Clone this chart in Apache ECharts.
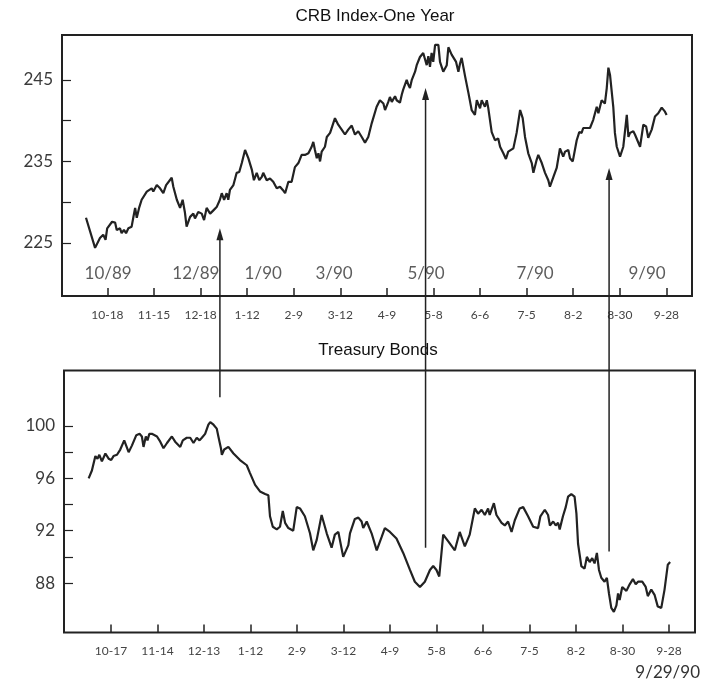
<!DOCTYPE html>
<html>
<head>
<meta charset="utf-8">
<script src="https://cdn.jsdelivr.net/npm/echarts@6/dist/echarts.min.js"></script>
<style>
html,body{margin:0;padding:0;background:#fff;}
#main{width:710px;height:685px;}
</style>
</head>
<body>
<div id="main"></div>
<script>
// ---- data (x = trading days from first tick; ticks every 20 days) ----
const tickDays = [0,20,40,60,80,100,120,140,160,180,200,220,240];
const crbTickLabels = ['10-18','11-15','12-18','1-12','2-9','3-12','4-9','5-8','6-6','7-5','8-2','8-30','9-28'];
const bondTickLabels = ['10-17','11-14','12-13','1-12','2-9','3-12','4-9','5-8','6-6','7-5','8-2','8-30','9-28'];
const crbYTicks = [225,230,235,240,245];
const crbYLabels = [225,235,245];
const bondYTicks = [88,90,92,94,96,98,100];
const bondYLabels = [88,92,96,100];
const monthLabels = ['10/89','12/89','1/90','3/90','5/90','7/90','9/90'];
const monthDays = [0.3,38,66.9,97.3,136.8,183.6,231.7];

const crbDays = [-9.2,-5.3,-3.2,-1.8,-0.8,-0.1,2.0,3.3,4.0,5.4,
6.1,7.1,8.0,9.0,10.4,11.1,11.9,12.6,13.7,14.7,
16.9,19.0,19.7,21.2,22.6,24.0,25.2,27.6,28.3,29.8,
31.2,32.3,33.3,34.0,35.5,36.9,37.6,39.0,40.5,41.5,
42.6,44.1,45.5,46.2,46.9,48.3,49.1,50.1,51.2,51.9,
52.6,54.1,55.5,56.6,57.7,59.1,60.5,62.0,62.9,64.1,
65.2,66.3,66.9,68.4,69.8,71.2,72.7,74.1,75.3,76.3,
77.7,79.1,80.5,82.0,83.4,84.8,86.3,87.7,88.4,89.1,
89.9,90.6,91.3,92.0,93.4,94.2,95.6,97.7,99.1,100.6,
102.0,103.4,104.9,106.3,107.7,109.2,110.6,112.0,113.5,115.6,
117.0,118.5,119.2,120.6,121.3,122.1,123.5,124.2,125.6,126.4,
127.0,128.5,129.2,129.9,130.7,132.1,132.8,134.2,135.6,137.1,
137.8,138.5,139.2,139.9,140.7,142.1,142.8,144.2,145.7,146.4,
147.8,148.5,149.7,150.7,151.4,152.1,153.6,155.0,156.4,157.8,
158.6,160.0,160.7,162.1,162.9,163.5,165.0,165.7,166.4,167.8,
168.6,170.0,171.1,172.1,172.9,174.3,175.7,177.2,178.3,179.3,
180.7,182.2,182.9,184.3,185.0,186.5,187.9,189.3,190.0,191.5,
192.9,194.3,195.7,196.5,197.9,198.6,199.8,201.5,202.6,203.6,
204.3,205.8,207.2,208.6,210.1,210.8,212.2,213.6,214.4,215.1,
215.8,217.2,217.9,218.7,220.1,221.5,223.0,223.7,224.4,225.8,
226.5,227.3,228.7,230.1,231.3,232.2,233.7,235.1,236.5,238.0,
239.4,240.1];
const crbValues = [228.1,224.4,225.6,226.0,225.4,226.8,227.6,227.5,226.6,226.8,
226.2,226.6,226.2,226.8,227.0,228.1,229.3,228.1,229.4,230.3,
231.3,231.7,231.3,232.1,231.7,231.1,232.1,233.0,231.9,230.3,
229.3,230.3,228.7,227.0,228.2,228.6,228.0,228.8,228.6,227.8,
229.3,228.6,229.0,228.8,229.4,230.3,231.1,230.3,231.1,230.3,
231.5,232.1,233.6,233.7,234.8,236.4,235.4,234.0,232.7,233.6,
232.7,233.1,233.6,232.7,232.9,232.5,231.7,231.9,231.5,231.1,
232.5,232.5,234.3,234.8,235.8,235.8,236.0,236.8,237.4,236.4,
235.4,236.0,235.0,236.2,236.8,238.0,238.5,240.3,239.5,238.9,
238.3,238.9,239.4,238.3,238.7,238.0,237.3,238.0,239.7,241.7,
242.5,242.1,241.3,242.3,242.9,242.3,243.0,242.5,242.2,243.2,
243.8,245.0,244.4,244.0,245.0,246.0,246.8,247.8,248.3,246.8,
247.9,246.6,248.3,247.2,249.3,249.3,247.2,246.0,246.8,249.0,
248.1,248.3,247.2,246.0,247.0,247.7,245.4,243.4,241.3,240.7,
242.5,241.5,242.5,241.7,242.5,241.6,238.6,238.5,237.6,237.8,
236.8,236.0,235.3,236.2,236.0,236.6,238.5,241.3,240.3,238.0,
236.0,234.8,233.6,235.2,235.8,234.8,233.6,232.7,231.9,233.1,
234.2,236.6,235.6,236.2,236.4,235.4,235.0,237.6,238.6,238.5,
239.1,239.1,239.1,240.1,241.7,240.9,242.5,242.1,244.0,246.5,
245.6,241.7,238.5,236.8,235.6,236.8,240.7,238.0,238.5,238.7,
238.3,238.5,236.8,239.5,239.3,237.9,238.9,240.5,240.9,241.6,
241.1,240.7];

const bondDays = [-9.6,-8.2,-6.7,-5.8,-5.0,-3.9,-2.4,-1.0,0.1,1.1,
2.6,4.0,5.7,7.6,9.0,10.9,12.3,13.3,14.0,15.0,
15.7,16.5,17.6,19.8,21.2,22.6,24.1,26.2,27.6,29.8,
30.9,32.6,34.1,35.5,36.9,38.1,39.1,40.5,41.9,42.7,
44.1,45.5,46.2,47.3,47.7,48.7,50.5,52.7,55.5,58.4,
59.8,62.0,64.1,66.3,67.7,68.4,69.6,71.3,72.7,73.9,
74.9,76.3,78.4,79.9,81.3,83.4,85.6,87.0,88.5,90.6,
92.8,94.9,96.3,97.8,99.9,102.1,102.8,104.9,106.4,107.8,
108.5,110.0,112.1,114.3,116.4,117.8,120.0,122.8,125.7,128.6,
130.7,132.9,135.0,137.2,138.6,140.0,141.2,142.9,145.0,147.9,
150.0,152.2,154.3,156.5,157.9,159.4,160.8,162.2,162.9,164.7,
165.8,168.0,169.4,170.8,172.3,173.7,175.8,177.3,179.4,181.6,
183.7,184.7,186.6,188.0,188.8,190.2,191.3,192.3,193.0,194.4,
195.6,196.6,198.0,199.4,200.2,200.9,202.3,203.7,204.7,205.9,
207.0,208.0,209.0,209.9,210.9,212.3,213.3,214.2,215.2,216.3,
217.4,218.1,218.8,219.9,221.7,223.1,224.5,225.7,226.7,228.5,
230.0,230.9,232.4,233.8,235.2,236.7,238.1,239.5,240.5];
const bondValues = [96.0,96.6,97.7,97.5,97.8,97.3,97.9,97.5,97.4,97.7,
97.8,98.2,98.9,98.0,98.5,99.3,99.4,99.2,98.4,99.2,
98.9,99.4,99.4,99.2,98.8,98.3,98.7,99.2,98.8,98.4,
98.9,99.1,99.1,98.7,99.1,98.9,99.1,99.4,100.1,100.3,
100.1,99.8,99.2,98.3,97.8,98.2,98.4,97.9,97.4,97.0,
96.4,95.5,95.0,94.8,94.7,93.1,92.3,92.1,92.3,93.5,
92.6,92.2,92.0,93.8,93.7,93.1,91.8,90.5,91.3,93.2,
91.8,90.7,91.7,91.9,90.0,90.9,91.8,92.9,93.0,92.7,
92.2,92.7,91.8,90.5,91.5,92.2,91.9,91.4,90.3,89.0,
88.1,87.7,88.1,89.0,89.3,89.0,88.5,91.7,91.2,90.5,
91.9,90.8,91.7,93.7,93.3,93.6,93.2,93.7,93.2,94.1,
93.2,92.6,92.4,92.7,91.9,92.8,93.7,93.8,93.1,92.3,
92.2,93.1,93.6,93.2,92.4,92.7,92.4,92.6,92.1,93.1,
93.8,94.6,94.8,94.6,93.3,91.0,89.3,89.1,90.0,89.6,
89.9,89.5,90.3,89.0,88.4,88.1,88.4,87.2,86.1,85.8,
86.3,87.2,86.7,87.7,87.4,87.9,88.3,87.9,88.1,88.1,
87.7,87.0,87.5,87.1,86.2,86.1,87.5,89.4,89.6];

// arrows: from a Treasury Bond level up to a CRB level at the same day
const arrowDays = [48.3,136.6,215.4];
const arrowFromBond = [102.2,90.7,90.4];
const arrowToCrb = [226.8,244.0,234.2];

// ---- chart ----
const chart = echarts.init(document.getElementById('main'), null, {renderer:'canvas'});
const INK = '#222';
const SERIFISH = 'Lato, "Open Sans", sans-serif';

function xAxisFor(grid, labels, min, max) {
  return {
    type:'value', gridIndex:grid, min:min, max:max, position:'bottom',
    axisLine:{show:false, onZero:false}, splitLine:{show:false},
    axisTick:{show:true, inside:true, length:8, customValues:tickDays, lineStyle:{color:INK, width:1.5}},
    axisLabel:{show:true, customValues:tickDays, margin:13, fontSize:12, color:'#444', fontFamily:SERIFISH,
      formatter:(v)=>labels[tickDays.indexOf(v)] || ''}
  };
}
function yAxisFor(grid, ticks, labels, min, max) {
  return {
    type:'value', gridIndex:grid, min:min, max:max, position:'left',
    axisLine:{show:false, onZero:false}, splitLine:{show:false},
    axisTick:{show:true, inside:true, length:9, customValues:ticks, lineStyle:{color:INK, width:1.2}},
    axisLabel:{show:true, customValues:labels, margin:9, fontSize:17, color:'#3a3a3a', fontFamily:SERIFISH}
  };
}

const option = {
  animation:false,
  backgroundColor:'#ffffff',
  grid:[
    {left:62, right:18, top:35, height:261, show:true, borderColor:INK, borderWidth:2, backgroundColor:'transparent'},
    {left:64, right:15, top:370.5, height:262, show:true, borderColor:INK, borderWidth:2, backgroundColor:'transparent'}
  ],
  xAxis:[ xAxisFor(0, crbTickLabels, -19.5, 251), xAxisFor(1, bondTickLabels, -20.2, 251.2) ],
  yAxis:[ yAxisFor(0, crbYTicks, crbYLabels, 218.5, 250.5), yAxisFor(1, bondYTicks, bondYLabels, 84.22, 104.24) ],
  series:[
    {type:'line', xAxisIndex:0, yAxisIndex:0, symbol:'none', silent:true,
     data:crbDays.map((d,i)=>[d, crbValues[i]]), lineStyle:{color:INK, width:2.2}, z:3},
    {type:'line', xAxisIndex:1, yAxisIndex:1, symbol:'none', silent:true,
     data:bondDays.map((d,i)=>[d, bondValues[i]]), lineStyle:{color:INK, width:2.2}, z:3},
    {type:'scatter', xAxisIndex:0, yAxisIndex:0, symbolSize:1, silent:true,
     itemStyle:{color:'rgba(0,0,0,0)'},
     data:monthLabels.map((m,i)=>({name:m, value:[monthDays[i], 221.3]})),
     label:{show:true, position:'inside', formatter:'{b}', fontSize:17, color:'#333', fontFamily:SERIFISH}}
  ]
};
chart.setOption(option);

// ---- titles and arrows (positions via the chart's own scales) ----
const graphics = [
  {type:'text', id:'t1', x:375, y:16, style:{text:'CRB Index-One Year', font:'17px "Liberation Sans", Arial, sans-serif', fill:'#111', align:'center', verticalAlign:'middle'}},
  {type:'text', id:'t2', x:378, y:350, style:{text:'Treasury Bonds', font:'17px "Liberation Sans", Arial, sans-serif', fill:'#111', align:'center', verticalAlign:'middle'}},
  {type:'text', id:'t3', x:700, y:673, style:{text:'9/29/90', font:'17px Lato, "Open Sans", sans-serif', fill:'#333', align:'right', verticalAlign:'middle'}}
];
arrowDays.forEach((d,i)=>{
  const tip = chart.convertToPixel({gridIndex:0}, [d, arrowToCrb[i]]);
  const start = chart.convertToPixel({gridIndex:1}, [d, arrowFromBond[i]]);
  const x = tip[0];
  graphics.push({type:'line', id:'al'+i, z:10, shape:{x1:x, y1:start[1], x2:x, y2:tip[1]+8}, style:{stroke:INK, lineWidth:1.5}});
  graphics.push({type:'polygon', id:'ah'+i, z:10, shape:{points:[[x, tip[1]], [x-3.5, tip[1]+12], [x+3.5, tip[1]+12]]}, style:{fill:INK}});
});
chart.setOption({graphic:graphics});
</script>
</body>
</html>
